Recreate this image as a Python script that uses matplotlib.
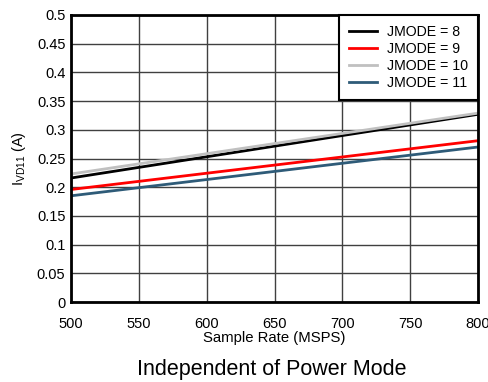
import matplotlib
matplotlib.use("Agg")
import matplotlib.pyplot as plt

plt.rcParams['font.family'] = ['Liberation Sans', 'DejaVu Sans']
plt.rcParams['mathtext.fontset'] = 'custom'
plt.rcParams['mathtext.rm'] = 'Liberation Sans'

sample_rate = [500, 800]
jmode8 = [0.216, 0.327]
jmode9 = [0.196, 0.281]
jmode10 = [0.223, 0.329]
jmode11 = [0.185, 0.270]
labels = ['JMODE = 8', 'JMODE = 9', 'JMODE = 10', 'JMODE = 11']
colors = ['#000000', '#ff0000', '#c0c0c0', '#2e5b78']

xticks = [500, 550, 600, 650, 700, 750, 800]
yticks = [0, 0.05, 0.1, 0.15, 0.2, 0.25, 0.3, 0.35, 0.4, 0.45, 0.5]
ytick_labels = ['0', '0.05', '0.1', '0.15', '0.2', '0.25', '0.3', '0.35', '0.4', '0.45', '0.5']

fig = plt.figure(figsize=(4.89, 3.82), dpi=100)
ax = fig.add_axes([71/489, 1 - 302/382, (478-71)/489, (302-15)/382])

for ys, lab, c in zip([jmode8, jmode9, jmode10, jmode11], labels, colors):
    ax.plot(sample_rate, ys, color=c, lw=2, label=lab)

ax.set_xlim(500, 800)
ax.set_ylim(0, 0.5)
ax.set_xticks(xticks)
ax.set_yticks(yticks)
ax.set_yticklabels(ytick_labels)
ax.grid(True, color='#404040', lw=1)
ax.set_axisbelow(True)
ax.tick_params(length=0, labelsize=10.5, pad=4)
ax.tick_params(axis='x', pad=11)
for s in ax.spines.values():
    s.set_linewidth(2)
    s.set_color('black')

ax.set_xlabel('Sample Rate (MSPS)', fontsize=10.7, labelpad=0)
ax.set_ylabel(r'I$_{\mathrm{VD11}}$ (A)', fontsize=10.5, labelpad=6)

leg = ax.legend(loc='upper right', fontsize=10.2, frameon=True, fancybox=False,
                borderaxespad=0, handlelength=2.0, handletextpad=0.7,
                labelspacing=0.22, borderpad=0.7)
leg.get_frame().set_edgecolor('black')
leg.get_frame().set_linewidth(1.5)
leg.get_frame().set_alpha(1)

fig.text(272/489, 1 - 369/382, 'Independent of Power Mode', fontsize=15.5,
         ha='center', va='center')

fig.savefig('out.png', dpi=100)
